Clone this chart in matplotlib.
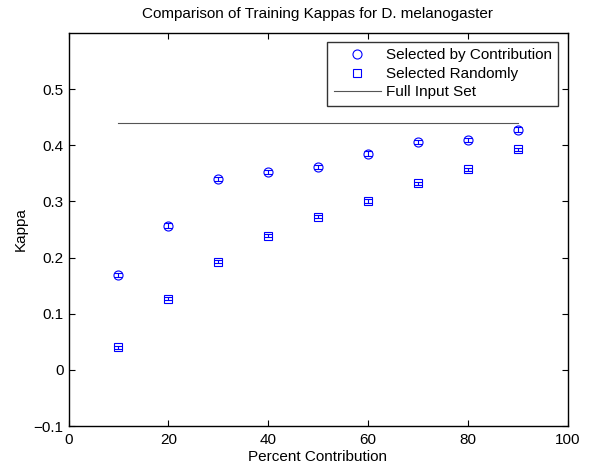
import matplotlib
matplotlib.use("Agg")
import matplotlib.pyplot as plt

# valeurs
percent = [10, 20, 30, 40, 50, 60, 70, 80, 90]
kappa_contrib = [0.169, 0.257, 0.340, 0.352, 0.361, 0.385, 0.406, 0.409, 0.428]
err_contrib = [0.004, 0.004, 0.004, 0.004, 0.004, 0.004, 0.004, 0.004, 0.005]
kappa_random = [0.040, 0.127, 0.193, 0.239, 0.273, 0.301, 0.332, 0.357, 0.393]
err_random = [0.003, 0.003, 0.003, 0.003, 0.003, 0.003, 0.003, 0.003, 0.003]
full_x = [10, 90]
full_kappa = [0.440, 0.440]

plt.rcParams['font.family'] = ['Liberation Sans', 'DejaVu Sans']

fig = plt.figure(figsize=(5.9, 4.66), dpi=100)
ax = fig.add_axes([68.5 / 590, 1 - 426 / 466, 499 / 590, 393 / 466])

e1 = ax.errorbar(percent, kappa_contrib, yerr=err_contrib, fmt='o', color='blue',
                 mfc='none', ms=6.5, mew=0.8, elinewidth=0.8, capsize=3)
e2 = ax.errorbar(percent, kappa_random, yerr=err_random, fmt='s', color='blue',
                 mfc='none', ms=6, mew=0.8, elinewidth=0.8, capsize=3)
l3, = ax.plot(full_x, full_kappa, color='#555555', lw=0.8)

ax.set_xlim(0, 100)
ax.set_ylim(-0.1, 0.6)
ax.set_xticks([0, 20, 40, 60, 80, 100])
ax.set_yticks([-0.1, 0, 0.1, 0.2, 0.3, 0.4, 0.5])
ax.set_yticklabels(['\u22120.1', '0', '0.1', '0.2', '0.3', '0.4', '0.5'])
ax.tick_params(direction='in', top=True, right=True, labelsize=11, length=4)
ax.tick_params(axis='x', pad=5)
for s in ax.spines.values():
    s.set_linewidth(1.0)

ax.set_xlabel('Percent Contribution', fontsize=11, labelpad=2.5)
ax.set_ylabel('Kappa', fontsize=11)
ax.set_title('Comparison of Training Kappas for D. melanogaster', fontsize=11, pad=11)

leg = ax.legend([e1.lines[0], e2.lines[0], l3],
                ['Selected by Contribution', 'Selected Randomly', 'Full Input Set'],
                loc='upper right', fontsize=11, frameon=True,
                fancybox=False, edgecolor='black', borderpad=0.4,
                labelspacing=0.3, handlelength=3.1, borderaxespad=0.6,
                handletextpad=0.35)
leg.get_frame().set_linewidth(1.0)

fig.savefig('out.png', dpi=100)
